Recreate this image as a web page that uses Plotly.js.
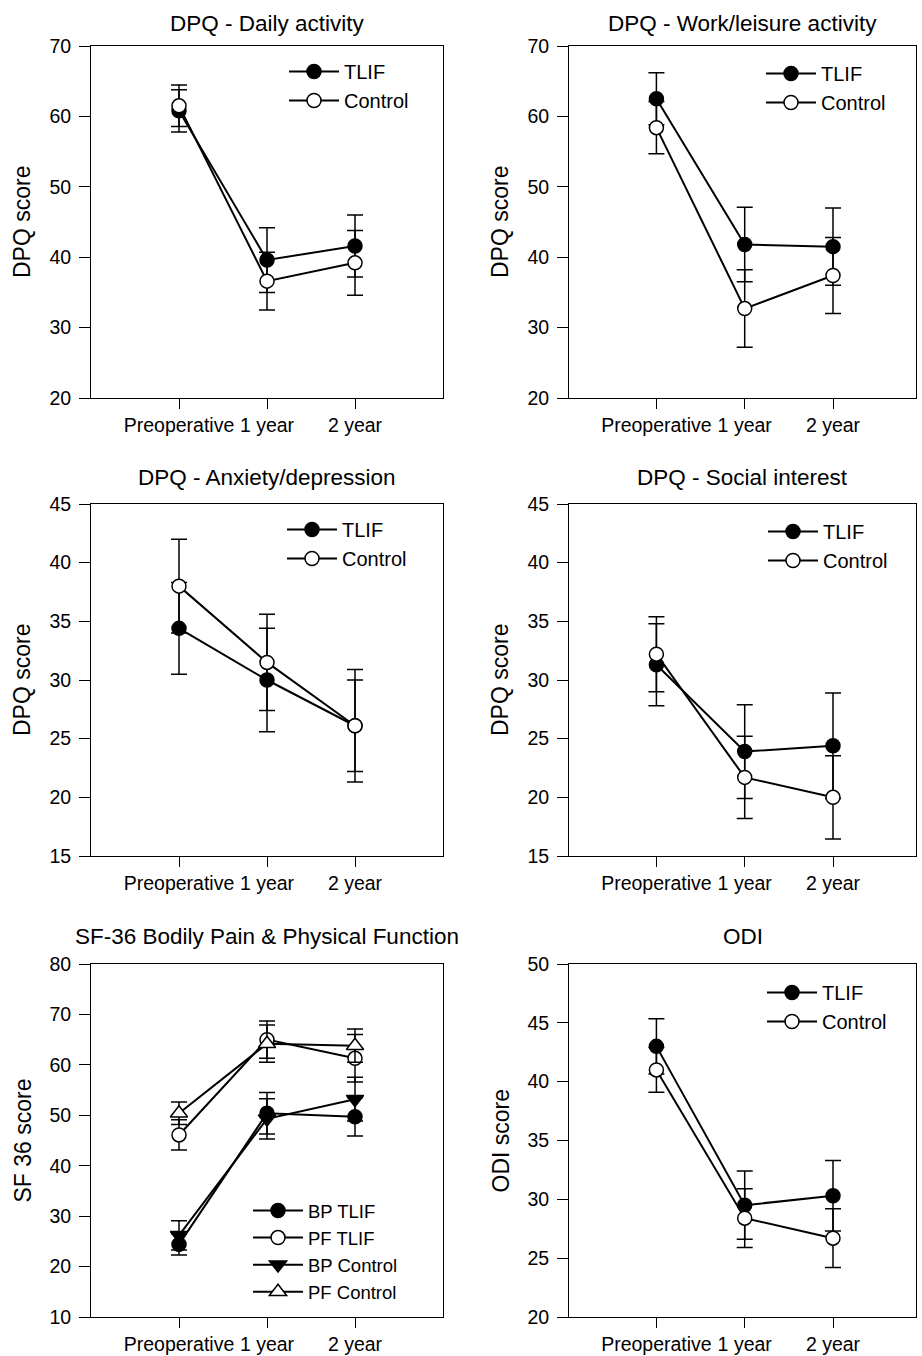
<!DOCTYPE html>
<html><head><meta charset="utf-8">
<script src="https://cdn.plot.ly/plotly-3.0.1.min.js"></script>
<style>html,body{margin:0;padding:0;background:#fff}#chart{width:922px;height:1356px}</style>
</head><body><div id="chart"></div>
<script>
const categories = ['Preoperative', '1 year', '2 year'];

// DPQ - Daily activity
const dailyTLIF = [60.8, 39.6, 41.6];
const dailyTLIFErr = [3.0, 4.6, 4.4];
const dailyControl = [61.5, 36.6, 39.2];
const dailyControlErr = [2.95, 4.1, 4.6];

// DPQ - Work/leisure activity
const workTLIF = [62.5, 41.8, 41.5];
const workTLIFErr = [3.7, 5.3, 5.5];
const workControl = [58.4, 32.7, 37.4];
const workControlErr = [3.7, 5.5, 5.4];

// DPQ - Anxiety/depression
const anxTLIF = [34.4, 30.0, 26.1];
const anxTLIFErr = [3.9, 4.4, 3.9];
const anxControl = [38.0, 31.5, 26.1];
const anxControlErr = [4.0, 4.1, 4.8];

// DPQ - Social interest
const socTLIF = [31.3, 23.9, 24.4];
const socTLIFErr = [3.5, 4.0, 4.5];
const socControl = [32.2, 21.7, 20.0];
const socControlErr = [3.2, 3.5, 3.55];

// SF-36 Bodily Pain & Physical Function
const bpTLIF = [24.4, 50.4, 49.7];
const bpTLIFErr = [2.1, 4.1, 3.8];
const pfTLIF = [46.1, 65.0, 61.3];
const pfTLIFErr = [3.0, 3.7, 4.7];
const bpControl = [26.2, 49.3, 53.2];
const bpControlErr = [2.9, 4.0, 4.35];
const pfControl = [50.4, 64.2, 63.8];
const pfControlErr = [2.25, 3.7, 3.3];

// ODI
const odiTLIF = [43.0, 29.5, 30.3];
const odiTLIFErr = [2.35, 2.9, 3.0];
const odiControl = [41.0, 28.4, 26.7];
const odiControlErr = [1.9, 2.5, 2.5];

const W = 922, H = 1356;
const FONT = 'Liberation Sans, Arial, Helvetica, sans-serif';
const px = v => v / W;
const py = v => 1 - v / H;

const panels = [
  {title: 'DPQ - Daily activity', ytitle: 'DPQ score', box: [91, 443, 46, 398], yr: [20, 70], dtick: 10, xr: [-1, 3],
   titleY: 23, ytitleX: 22, leg: [284, 52], legFont: 20,
   series: [
     {name: 'TLIF', y: dailyTLIF, e: dailyTLIFErr, sym: 'circle', fill: 'black'},
     {name: 'Control', y: dailyControl, e: dailyControlErr, sym: 'circle', fill: 'white'}]},
  {title: 'DPQ - Work/leisure activity', ytitle: 'DPQ score', box: [569, 916, 46, 398], yr: [20, 70], dtick: 10, xr: [-0.99, 2.94],
   titleY: 23, ytitleX: 500, leg: [761, 54], legFont: 20,
   series: [
     {name: 'TLIF', y: workTLIF, e: workTLIFErr, sym: 'circle', fill: 'black'},
     {name: 'Control', y: workControl, e: workControlErr, sym: 'circle', fill: 'white'}]},
  {title: 'DPQ - Anxiety/depression', ytitle: 'DPQ score', box: [91, 443, 504, 856], yr: [15, 45], dtick: 5, xr: [-1, 3],
   titleY: 478, ytitleX: 22, leg: [282, 510], legFont: 20,
   series: [
     {name: 'TLIF', y: anxTLIF, e: anxTLIFErr, sym: 'circle', fill: 'black'},
     {name: 'Control', y: anxControl, e: anxControlErr, sym: 'circle', fill: 'white'}]},
  {title: 'DPQ - Social interest', ytitle: 'DPQ score', box: [569, 916, 504, 856], yr: [15, 45], dtick: 5, xr: [-0.99, 2.94],
   titleY: 477, ytitleX: 500, leg: [763, 512], legFont: 20,
   series: [
     {name: 'TLIF', y: socTLIF, e: socTLIFErr, sym: 'circle', fill: 'black'},
     {name: 'Control', y: socControl, e: socControlErr, sym: 'circle', fill: 'white'}]},
  {title: 'SF-36 Bodily Pain & Physical Function', ytitle: 'SF 36 score', box: [91, 443, 964, 1317], yr: [10, 80], dtick: 10, xr: [-1, 3],
   titleY: 937, ytitleX: 22, leg: [248, 1192], legFont: 18.5,
   series: [
     {name: 'BP TLIF', y: bpTLIF, e: bpTLIFErr, sym: 'circle', fill: 'black'},
     {name: 'PF TLIF', y: pfTLIF, e: pfTLIFErr, sym: 'circle', fill: 'white'},
     {name: 'BP Control', y: bpControl, e: bpControlErr, sym: 'triangle-down', fill: 'black'},
     {name: 'PF Control', y: pfControl, e: pfControlErr, sym: 'triangle-up', fill: 'white'}]},
  {title: 'ODI', ytitle: 'ODI score', box: [569, 916, 964, 1317], yr: [20, 50], dtick: 5, xr: [-0.99, 2.94],
   titleY: 937, ytitleX: 500, leg: [762, 973], legFont: 20,
   series: [
     {name: 'TLIF', y: odiTLIF, e: odiTLIFErr, sym: 'circle', fill: 'black'},
     {name: 'Control', y: odiControl, e: odiControlErr, sym: 'circle', fill: 'white'}]}
];

const data = [];
const layout = {
  width: W, height: H,
  margin: {l: 0, r: 0, t: 0, b: 0},
  paper_bgcolor: 'white', plot_bgcolor: 'white',
  font: {family: FONT, color: 'black', size: 19},
  showlegend: true,
  annotations: []
};

panels.forEach((p, i) => {
  const n = i + 1;
  const sx = n === 1 ? '' : String(n);
  const legName = 'legend' + sx;
  p.series.forEach(s => {
    data.push({
      type: 'scatter', mode: 'lines+markers',
      x: categories, y: s.y, name: s.name,
      xaxis: 'x' + sx, yaxis: 'y' + sx, legend: legName,
      line: {color: 'black', width: 2},
      marker: {symbol: s.sym, size: s.sym === 'circle' ? 14 : 15, color: s.fill, line: {color: 'black', width: 1.5}},
      error_y: {type: 'data', array: s.e, visible: true, color: 'black', thickness: 1.5, width: 8},
      cliponaxis: false
    });
  });
  const [x0, x1, y0, y1] = p.box;
  layout['xaxis' + sx] = {
    domain: [px(x0), px(x1)], anchor: 'y' + sx, type: 'category', range: p.xr,
    showline: true, mirror: true, linecolor: 'black', linewidth: 1,
    ticks: 'outside', ticklen: 10, tickwidth: 1, tickcolor: 'black',
    showgrid: false, zeroline: false, tickfont: {size: 19.5, family: FONT}, fixedrange: true
  };
  layout['yaxis' + sx] = {
    domain: [py(y1), py(y0)], anchor: 'x' + sx, range: p.yr, tick0: 0, dtick: p.dtick,
    showline: true, mirror: true, linecolor: 'black', linewidth: 1,
    ticks: 'outside', ticklen: 11, tickwidth: 1, tickcolor: 'black', ticklabelstandoff: 4,
    showgrid: false, zeroline: false, tickfont: {size: 19.5, family: FONT}, fixedrange: true
  };
  layout[legName] = {
    x: px(p.leg[0]), y: py(p.leg[1]), xanchor: 'left', yanchor: 'top',
    bgcolor: 'rgba(0,0,0,0)', borderwidth: 0, font: {size: p.legFont, family: FONT},
    itemwidth: 50, tracegroupgap: 0
  };
  layout.annotations.push({
    text: p.title, xref: 'paper', yref: 'paper', x: px((x0 + x1) / 2), y: py(p.titleY),
    xanchor: 'center', yanchor: 'middle', showarrow: false, font: {size: 22.5, family: FONT}
  });
  layout.annotations.push({
    text: p.ytitle, xref: 'paper', yref: 'paper', x: px(p.ytitleX), y: py((y0 + y1) / 2),
    xanchor: 'center', yanchor: 'middle', textangle: -90, showarrow: false, font: {size: 23, family: FONT}
  });
});

Plotly.newPlot('chart', data, layout, {displayModeBar: false, staticPlot: true});
</script>
</body></html>
